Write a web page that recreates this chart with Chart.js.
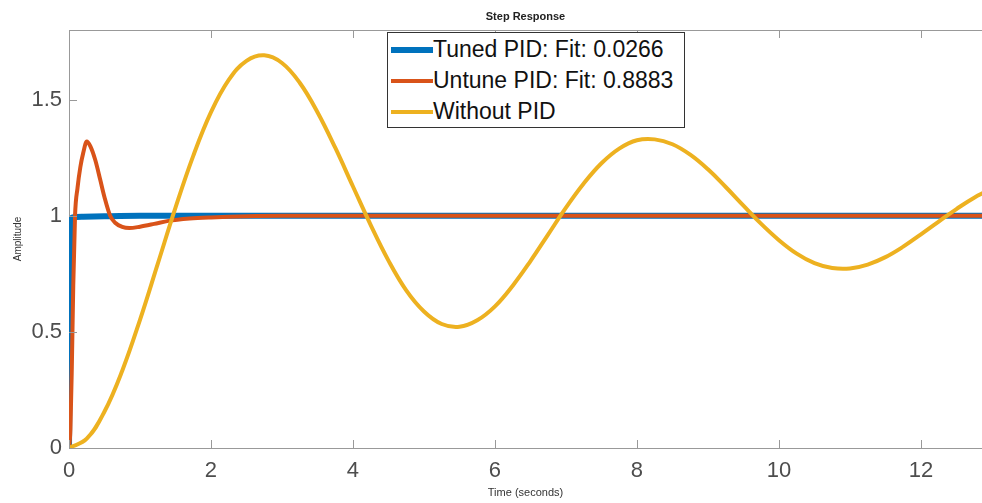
<!DOCTYPE html>
<html lang="en">
<head>
    <meta charset="UTF-8">
    <title>Step Response</title>
    <script src="https://cdn.jsdelivr.net/npm/chart.js"></script>
    <style>
        body { margin: 0; background: #fff; }
        #wrap { position: relative; width: 982px; height: 503px; }
        #legend { position: absolute; left: 387px; top: 32px; width: 298px; height: 96px; box-sizing: border-box;
                  border: 1px solid #333; background: #fff; padding-top: 1px; }
        .row { display: flex; align-items: center; height: 31px; font: 23px "Liberation Sans", Arial, sans-serif; color: #111; }
        .swatch { width: 42px; margin-left: 3px; }
    </style>
</head>
<body>
<div id="wrap">
    <canvas id="chart" width="982" height="503"></canvas>
    <div id="legend"></div>
</div>
<script>
// data
const seriesLabels = ['Tuned PID: Fit: 0.0266', 'Untune PID: Fit: 0.8883', 'Without PID'];

const tunedT = [0, 0.01, 0.02, 0.03, 0.05, 0.2, 0.5, 1, 2, 4, 8, 12.9];
const tunedY = [0, 0.5, 0.9, 0.98, 0.993, 0.996, 0.998, 1.0, 1.0, 1.0, 1.0, 1.0];

const untunedT = [0, 0.02, 0.04, 0.06, 0.085, 0.12, 0.16, 0.2, 0.25, 0.3, 0.37, 0.44, 0.5, 0.58, 0.65, 0.75, 0.85,
                  1.0, 1.2, 1.4, 1.7, 2.0, 2.5, 3.0, 6, 9, 12.9];
const untunedY = [0, 0.08, 0.35, 0.7, 1.0, 1.12, 1.21, 1.27, 1.32, 1.3, 1.24, 1.155, 1.08, 1.0, 0.97, 0.952, 0.947,
                  0.953, 0.965, 0.978, 0.988, 0.993, 0.998, 1.0, 1.0, 1.0, 1.0];

const openT = [0, 0.25, 0.5, 0.75, 1, 1.25, 1.5, 1.75, 2, 2.25, 2.5, 2.75, 3, 3.25, 3.5, 3.75, 4, 4.25, 4.5, 4.75,
               5, 5.25, 5.5, 5.75, 6, 6.25, 6.5, 6.75, 7, 7.25, 7.5, 7.75, 8, 8.25, 8.5, 8.75, 9, 9.25, 9.5, 9.75,
               10, 10.25, 10.5, 10.75, 11, 11.25, 11.5, 11.75, 12, 12.25, 12.5, 12.75, 13];
const openY = [0, 0.04, 0.157, 0.333, 0.552, 0.793, 1.035, 1.258, 1.446, 1.585, 1.667, 1.691, 1.658, 1.573, 1.446, 1.293,
               1.126, 0.96, 0.807, 0.679, 0.588, 0.534, 0.522, 0.55, 0.61, 0.699, 0.805, 0.92, 1.035, 1.139, 1.226, 1.289,
               1.325, 1.329, 1.308, 1.263, 1.2, 1.124, 1.044, 0.965, 0.895, 0.837, 0.796, 0.775, 0.773, 0.79, 0.822, 0.867,
               0.92, 0.975, 1.029, 1.078, 1.116];

const xTicks = [0, 2, 4, 6, 8, 10, 12];
const yTicks = [0, 0.5, 1, 1.5];

const colors = ['#0072BD', '#D95319', '#EDB120'];
const widths = [6, 4, 4];

const pts = (t, y) => t.map((v, i) => ({ x: v, y: y[i] }));

const axisGray = '#999';
const tickFont = { family: '"Liberation Sans", Arial, sans-serif', size: 22 };

// MATLAB style ticks pointing inward
const innerTicks = {
    id: 'innerTicks',
    afterDraw(chart) {
        const { ctx, chartArea: a, scales } = chart;
        ctx.save();
        ctx.strokeStyle = axisGray;
        ctx.lineWidth = 1;
        ctx.beginPath();
        xTicks.forEach(v => {
            const px = Math.round(scales.x.getPixelForValue(v)) + 0.5;
            ctx.moveTo(px, a.bottom); ctx.lineTo(px, a.bottom - 8);
            ctx.moveTo(px, a.top); ctx.lineTo(px, a.top + 8);
        });
        yTicks.forEach(v => {
            const py = Math.round(scales.y.getPixelForValue(v)) + 0.5;
            ctx.moveTo(a.left, py); ctx.lineTo(a.left + 8, py);
        });
        ctx.stroke();
        ctx.restore();
    }
};

new Chart(document.getElementById('chart'), {
    type: 'line',
    data: {
        datasets: [
            { label: seriesLabels[0], data: pts(tunedT, tunedY), borderColor: colors[0], borderWidth: widths[0],
              order: 3, cubicInterpolationMode: 'monotone' },
            { label: seriesLabels[1], data: pts(untunedT, untunedY), borderColor: colors[1], borderWidth: widths[1],
              order: 2, cubicInterpolationMode: 'monotone' },
            { label: seriesLabels[2], data: pts(openT, openY), borderColor: colors[2], borderWidth: widths[2],
              order: 1, tension: 0.4 }
        ]
    },
    options: {
        responsive: false,
        animation: false,
        parsing: false,
        layout: { padding: 0 },
        elements: {
            point: { radius: 0 },
            line: { fill: false, borderCapStyle: 'butt' }
        },
        plugins: { legend: { display: false }, tooltip: { enabled: false } },
        scales: {
            x: {
                type: 'linear', position: 'bottom', min: 0, max: 12.86,
                afterBuildTicks: s => { s.ticks = xTicks.map(v => ({ value: v })); },
                afterFit: s => { s.height = 55; },
                ticks: { font: tickFont, color: '#4d4d4d', padding: 10, maxRotation: 0,
                         callback: v => String(v) },
                grid: { drawOnChartArea: false, drawTicks: false },
                border: { color: axisGray, width: 1 },
                title: { display: true, text: 'Time (seconds)', color: '#333',
                         font: { family: '"Liberation Sans", Arial, sans-serif', size: 11 },
                         padding: { top: 0, bottom: 3 } }
            },
            xTop: {
                type: 'linear', position: 'top', min: 0, max: 12.86,
                afterFit: s => { s.height = 30; },
                ticks: { display: false },
                grid: { display: false },
                border: { display: true, color: axisGray, width: 1 },
                title: { display: true, text: 'Step Response', color: '#222',
                         font: { family: '"Liberation Sans", Arial, sans-serif', size: 11, weight: 'bold' },
                         padding: { top: 10, bottom: 0 } }
            },
            y: {
                type: 'linear', min: 0, max: 1.8,
                afterBuildTicks: s => { s.ticks = yTicks.map(v => ({ value: v })); },
                afterFit: s => { s.width = 69; },
                ticks: { font: tickFont, color: '#4d4d4d', padding: 7, callback: v => String(v) },
                grid: { drawOnChartArea: false, drawTicks: false },
                border: { color: axisGray, width: 1 },
                title: { display: true, text: 'Amplitude', color: '#333',
                         font: { family: '"Liberation Sans", Arial, sans-serif', size: 10 },
                         padding: { top: 12, bottom: 0 } }
            }
        }
    },
    plugins: [innerTicks]
});

// legend box like the MATLAB one
const legend = document.getElementById('legend');
seriesLabels.forEach((label, i) => {
    const row = document.createElement('div');
    row.className = 'row';
    const sw = document.createElement('span');
    sw.className = 'swatch';
    sw.style.height = widths[i] + 'px';
    sw.style.background = colors[i];
    const txt = document.createElement('span');
    txt.textContent = label;
    row.appendChild(sw);
    row.appendChild(txt);
    legend.appendChild(row);
});
</script>
</body>
</html>
